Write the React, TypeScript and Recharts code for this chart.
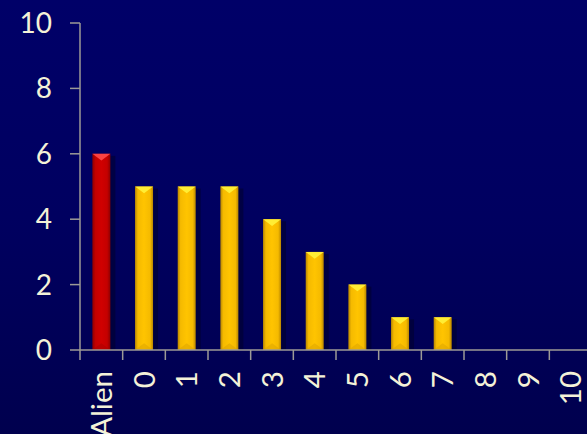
import React from "react";
import { BarChart, Bar, XAxis, YAxis, Cell } from "recharts";

const categories = ["Alien", "0", "1", "2", "3", "4", "5", "6", "7", "8", "9", "10"];
const counts = [6, 5, 5, 5, 4, 3, 2, 1, 1, 0, 0, 0];
const yTicks = [0, 2, 4, 6, 8, 10];
const boundaryTicks = [0, 1, 2, 3, 4, 5, 6, 7, 8, 9, 10, 11, 12];

const data = categories.map((c, i) => ({ name: c, value: counts[i], pos: i + 0.5 }));

const FONT = "Lato, 'Open Sans', sans-serif";
const TEXT = "#F4F2D8";
const AXIS = "#9C9A96";

const BarShape = (props: any) => {
  const { x, y, width, height, index } = props;
  if (!height || height <= 0) return null;
  const red = index === 0;
  const gid = red ? "gradRed" : "gradYel";
  const top = red ? "#FF4A4A" : "#FFF23A";
  const bot = red ? "#A80000" : "#D9A200";
  const tri = Math.min(width / 2, height / 2);
  return (
    <g>
      <rect x={x + 2} y={y + 2} width={width + 3} height={height - 2} fill="#000022" opacity={0.45} />
      <rect x={x} y={y} width={width} height={height} fill={`url(#${gid})`} />
      <polygon
        points={`${x},${y} ${x + width},${y} ${x + width / 2},${y + tri * 0.75}`}
        fill={top}
        opacity={0.9}
      />
      <polygon
        points={`${x},${y + height} ${x + width},${y + height} ${x + width / 2},${y + height - tri * 0.75}`}
        fill={bot}
        opacity={0.5}
      />
    </g>
  );
};

const XTick = (props: any) => {
  const { x, y, payload } = props;
  return (
    <g transform={`translate(${x},${y})`}>
      <text
        transform="rotate(-90)"
        x={-10}
        y={0}
        dy="0.36em"
        textAnchor="end"
        fill={TEXT}
        fontSize={29.5}
        fontFamily={FONT}
      >
        {payload.value}
      </text>
    </g>
  );
};

const EmptyTick = () => <g />;

export default function App() {
  return (
    <div
      style={{
        position: "absolute",
        left: 0,
        top: 0,
        width: 587,
        height: 434,
        overflow: "hidden",
        background: "linear-gradient(to bottom, #000068 0%, #000060 50%, #00004E 100%)",
      }}
    >
      <BarChart
        width={600}
        height={434}
        data={data}
        margin={{ top: 23, right: 8, bottom: 0, left: 0 }}
        barCategoryGap="29%"
      >
        <defs>
          <linearGradient id="gradRed" x1="0" y1="0" x2="1" y2="0">
            <stop offset="0%" stopColor="#8E0000" />
            <stop offset="18%" stopColor="#C40000" />
            <stop offset="50%" stopColor="#D00000" />
            <stop offset="82%" stopColor="#C40000" />
            <stop offset="100%" stopColor="#8E0000" />
          </linearGradient>
          <linearGradient id="gradYel" x1="0" y1="0" x2="1" y2="0">
            <stop offset="0%" stopColor="#B88600" />
            <stop offset="16%" stopColor="#F5BA00" />
            <stop offset="50%" stopColor="#FFC400" />
            <stop offset="84%" stopColor="#F5BA00" />
            <stop offset="100%" stopColor="#B88600" />
          </linearGradient>
        </defs>
        <XAxis
          xAxisId="cat"
          dataKey="name"
          height={83}
          axisLine={false}
          tickLine={false}
          tickSize={10}
          tickMargin={0}
          interval={0}
          tick={<XTick />}
        />
        <XAxis
          xAxisId="agrid"
          dataKey="pos"
          type="number"
          domain={[0, 12]}
          ticks={boundaryTicks}
          interval={0}
          allowDataOverflow
          height={1}
          tick={<EmptyTick />}
          tickSize={10}
          axisLine={{ stroke: AXIS, strokeWidth: 1.5 }}
          tickLine={{ stroke: AXIS, strokeWidth: 1.5 }}
        />
        <YAxis
          width={80}
          domain={[0, 10]}
          ticks={yTicks}
          tickSize={10}
          tickMargin={18}
          axisLine={{ stroke: AXIS, strokeWidth: 1.5 }}
          tickLine={{ stroke: AXIS, strokeWidth: 1.5 }}
          tick={{ fill: TEXT, fontSize: 28, fontFamily: FONT }}
        />
        <Bar dataKey="value" xAxisId="cat" isAnimationActive={false} shape={<BarShape />}>
          {data.map((d, i) => (
            <Cell key={d.name} fill={i === 0 ? "#CC0000" : "#FFC000"} />
          ))}
        </Bar>
      </BarChart>
    </div>
  );
}
